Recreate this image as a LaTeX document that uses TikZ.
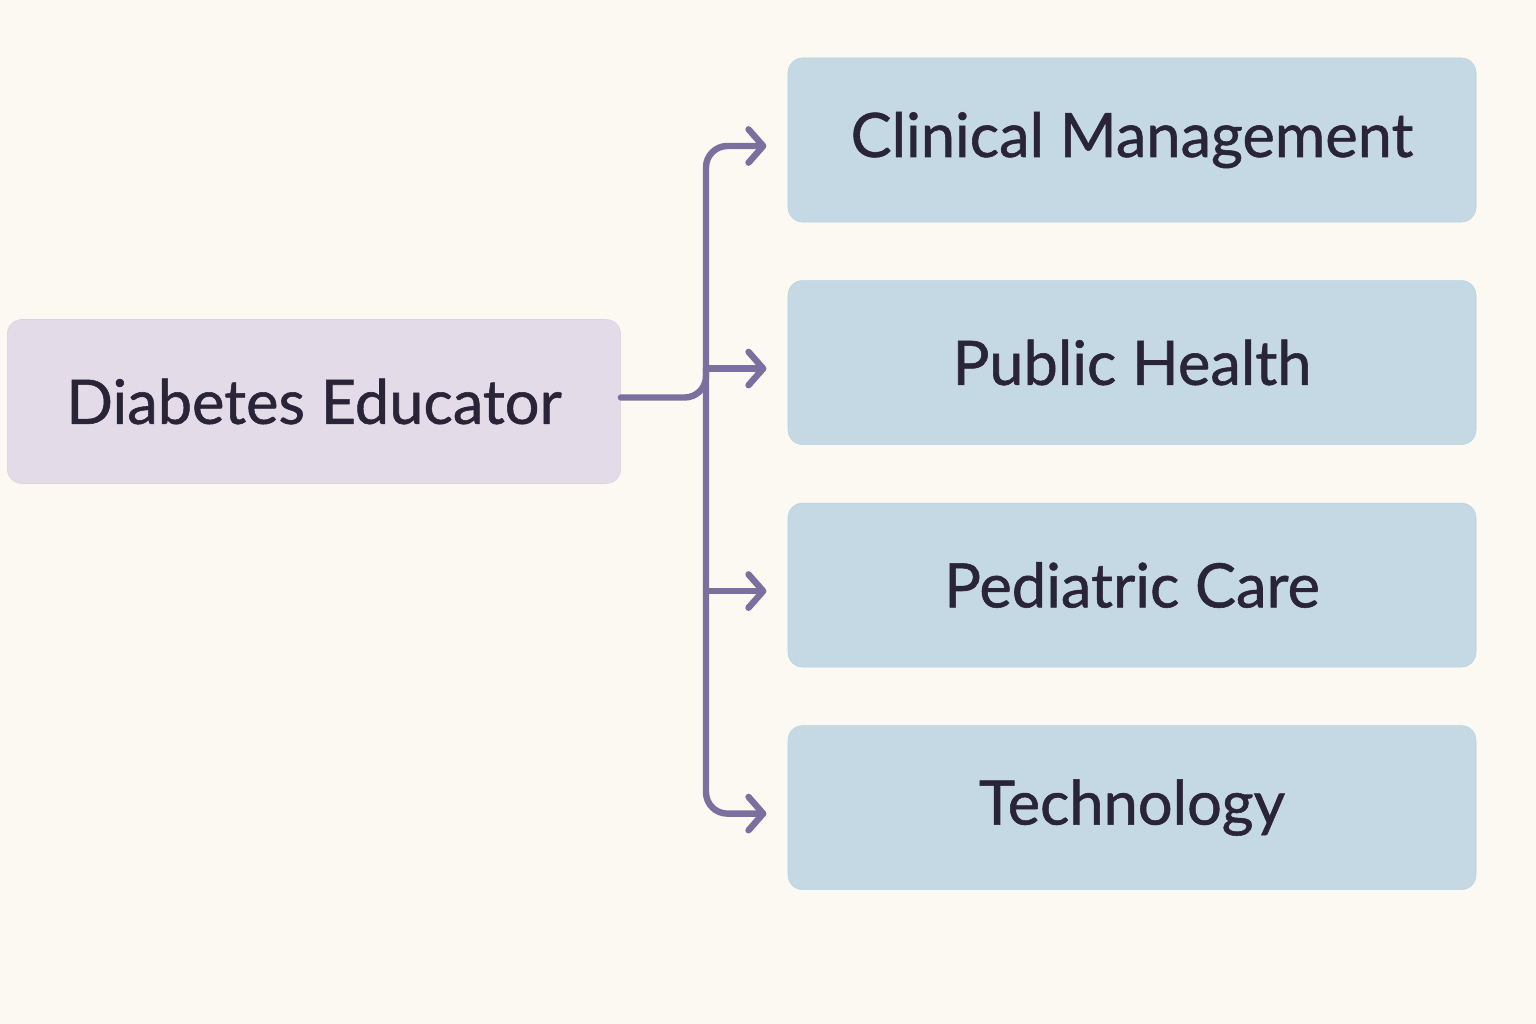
\documentclass[tikz,border=0pt]{standalone}
\usepackage{fontspec}
\setmainfont{Lato}[FakeBold=0.9]
\usetikzlibrary{arrows.meta,positioning}

\definecolor{bgcol}{RGB}{252,249,242}
\definecolor{educol}{RGB}{227,220,232}
\definecolor{educolb}{RGB}{218,210,226}
\definecolor{areacol}{RGB}{196,217,227}
\definecolor{areacolb}{RGB}{184,210,223}
\definecolor{linkcol}{RGB}{123,111,160}
\definecolor{txtcol}{RGB}{42,36,56}

\tikzset{
  edubox/.style={draw=educolb, fill=educol, rounded corners=11pt, minimum width=460pt, minimum height=123pt, inner sep=0pt, text=txtcol, font=\fontsize{46}{50}\selectfont},
  areabox/.style={draw=areacolb, fill=areacol, rounded corners=11pt, minimum width=516pt, minimum height=123pt, inner sep=0pt, text=txtcol, font=\fontsize{46}{50}\selectfont},
  link/.style={draw=linkcol, line width=4.8pt, line cap=round, rounded corners=16pt},
  tip/.style={-{Straight Barb[length=11pt,width=25pt,line cap=round,line join=round]}, shorten >=16pt}
}

\begin{document}
\begin{tikzpicture}[x=0.75pt,y=0.75pt,yscale=-1,xscale=1]
%set diagram at 1536 by 1024
\fill[bgcol] (0,0) rectangle (1536,1024);

% Text Node
\node[edubox] (edu) at (314,401.5) {Diabetes Educator};
% Text Node
\node[areabox] (clin) at (1132,140) {Clinical Management};
% Text Node
\node[areabox, below=43.5pt of clin] (pub) {Public Health};
% Text Node
\node[areabox, below=43.5pt of pub] (ped) {Pediatric Care};
% Text Node
\node[areabox, below=43.5pt of ped] (tech) {Technology};

\coordinate (trunk) at (706,0);

%Straight Lines
\draw[link, tip] ([yshift=-3pt]edu.east) -- ([yshift=-3pt]edu.east -| trunk) |- ([yshift=4.5pt]clin.west);
\draw[link, tip] ([yshift=4.5pt]pub.west -| trunk) |- ([yshift=4.5pt]tech.west);
\draw[link, tip] ([yshift=4.5pt]pub.west -| trunk) -- ([yshift=4.5pt]pub.west);
\draw[link, tip] ([yshift=4.5pt]ped.west -| trunk) -- ([yshift=4.5pt]ped.west);

\end{tikzpicture}
\end{document}
